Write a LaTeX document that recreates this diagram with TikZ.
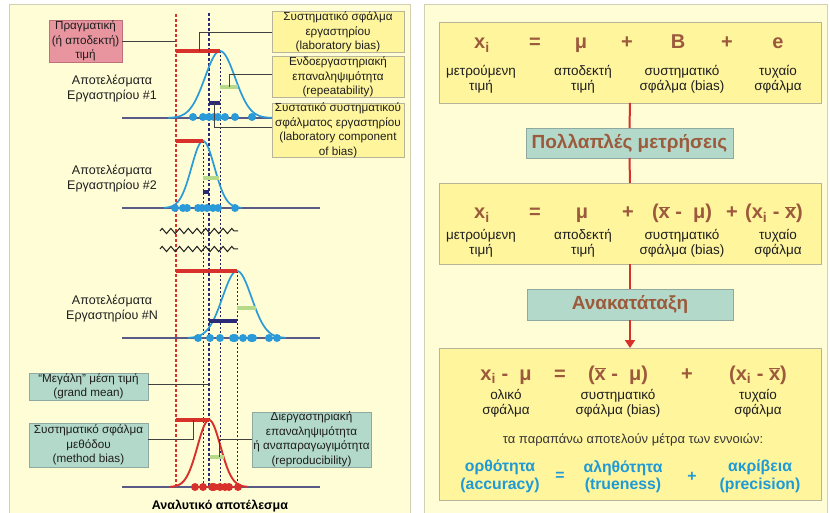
\documentclass[tikz,border=0pt]{standalone}
\usepackage{fontspec}
\setmainfont{Liberation Sans}
\usetikzlibrary{arrows.meta,decorations.pathmorphing}
\definecolor{panel}{HTML}{FFFDD6}
\definecolor{pbord}{HTML}{D3CFB0}
\definecolor{yfill}{HTML}{FFF59D}
\definecolor{ybord}{HTML}{B8B49A}
\definecolor{tfill}{HTML}{B3D9CA}
\definecolor{tbord}{HTML}{8FA9A0}
\definecolor{pfill}{HTML}{E8959F}
\definecolor{pbrd}{HTML}{C0707A}
\definecolor{redc}{HTML}{D8302A}
\definecolor{bluec}{HTML}{2A9BD8}
\definecolor{navyc}{HTML}{2B2A78}
\definecolor{axisc}{HTML}{5A5A86}
\definecolor{greenc}{HTML}{B6D98A}
\definecolor{brownc}{HTML}{9C5A3C}
\definecolor{bluet}{HTML}{1E9AD6}
\definecolor{txt}{HTML}{1E1E1E}
\newcommand\myxbar{\ensuremath{\overline{\hbox{x}}}}
\newcommand\myxi{x\textsubscript{i}}
\begin{document}
\begin{tikzpicture}[x=1pt,y=-1pt,
  every node/.style={inner sep=0pt, outer sep=0pt},
  lbl/.style={font=\fontsize{11.7}{14.5}\selectfont, text=txt, align=center},
  ybox/.style={draw=ybord, fill=yfill, line width=0.8pt, lbl},
  tbox/.style={draw=tbord, fill=tfill, line width=0.8pt, lbl},
  pbox/.style={draw=pbrd, fill=pfill, line width=0.8pt, lbl},
  bigbox/.style={draw=ybord, fill=yfill, line width=0.9pt},
  stagebox/.style={draw=tbord, fill=tfill, line width=0.9pt, font=\fontsize{19}{22}\selectfont\bfseries, text=brownc},
  conn/.style={draw=txt!85, line width=0.9pt},
  redline/.style={draw=redc, line width=2pt},
  meanline/.style={draw=navyc!80!black, line width=0.9pt, dash pattern=on 2pt off 2pt},
  axisline/.style={draw=axisc, line width=1.3pt},
  redbar/.style={draw=redc, line width=4.5pt},
  greenbar/.style={draw=greenc, line width=4pt},
  navybar/.style={draw=navyc, line width=3.5pt},
  bdot/.style={fill=bluec},
  rdot/.style={fill=redc},
  lab/.style={font=\fontsize{12.5}{15}\selectfont, text=txt, align=center},
  fml/.style={font=\fontsize{20}{24}\selectfont\bfseries, text=brownc, anchor=base},
  rlbl/.style={font=\fontsize{13.5}{15.5}\selectfont, text=txt, align=center},
  blu/.style={font=\fontsize{15.8}{17.5}\selectfont\bfseries, text=bluet, align=center}
]
\clip (0,0) rectangle (830,513);
\fill[white] (0,0) rectangle (830,513);
% panels
\draw[fill=panel, draw=pbord, line width=1pt] (9,5) rectangle (410,520);
\draw[fill=panel, draw=pbord, line width=1pt] (424,5) rectangle (827,520);

% ---------- LEFT PANEL ----------
% vertical reference lines
\draw[redc, line width=1.5pt, dash pattern=on 3pt off 2pt] (176,14) -- (176,488);
\draw[navyc, line width=1.6pt, dash pattern=on 3pt off 2pt] (209,13) -- (209,488);
\draw[meanline] (220,51) -- (220,488);
\draw[meanline] (203,141) -- (203,488);
\draw[meanline] (237,271) -- (237,488);

% axes
\draw[axisline] (122,118) -- (320,118);
\draw[axisline] (122,208) -- (320,208);
\draw[axisline] (122,338) -- (320,338);
\draw[axisline] (122,487) -- (320,487);

% breaks
\draw[txt, line width=1pt, decorate, decoration={zigzag, segment length=8.7pt, amplitude=2.6pt}] (160,231) -- (238,231);
\draw[txt, line width=1pt, decorate, decoration={zigzag, segment length=8.7pt, amplitude=2.6pt}] (160,249) -- (238,249);

% curves
\draw[bluec, line width=1.7pt] plot[domain=168:272, samples=90, smooth] (\x, {118-67*exp(-((\x-220)*(\x-220))/450)});
\draw[bluec, line width=1.7pt] plot[domain=164:242, samples=90, smooth] (\x, {208-67*exp(-((\x-203)*(\x-203))/265)});
\draw[bluec, line width=1.7pt] plot[domain=188:286, samples=90, smooth] (\x, {338-67*exp(-((\x-237)*(\x-237))/420)});
\draw[redc, line width=1.9pt] plot[domain=170:248, samples=90, smooth] (\x, {487-67*exp(-((\x-209)*(\x-209))/265)});

% bars
\draw[redbar] (176,51) -- (220,51);
\draw[greenbar] (220,87) -- (238,87);
\draw[navybar] (209,103) -- (220,103);
\draw[redbar] (176,141) -- (203,141);
\draw[greenbar] (203,178) -- (219,178);
\draw[navybar] (203,192) -- (209,192);
\draw[redbar] (176,271) -- (237,271);
\draw[greenbar] (237,308) -- (256,308);
\draw[navybar] (209,321) -- (237,321);
\draw[redbar] (176,420) -- (209,420);
\draw[greenbar] (210,457) -- (224,457);

% dots
\foreach \p in {193,203,209,214,218,225,235,252} \fill[bdot] (\p,117) circle (4);
\foreach \p in {175,183,187,198,202,207,213,218,235} \fill[bdot] (\p,208) circle (4);
\foreach \p in {198,210,220,233,235,243,251,253,269,277} \fill[bdot] (\p,338) circle (4);
\foreach \p in {195,203,212,214,220,225,229,238} \fill[rdot] (\p,487) circle (4);

% anchor coordinates
\coordinate (truev) at (176,41);
\coordinate (lb1) at (199,51);
\coordinate (rp1) at (229,87);
\coordinate (nb1) at (214,103);
\coordinate (gm1) at (209,384);
\coordinate (mb1) at (193,420);
\coordinate (rr1) at (219,457);

% label boxes
\node[pbox, minimum width=73pt, minimum height=42pt] (real) at (85.5,41) {Πραγματική\\(ή αποδεκτή)\\τιμή};
\node[ybox, minimum width=132pt, minimum height=40pt] (lbias) at (338,32) {Συστηματικό σφάλμα\\εργαστηρίου\\(laboratory bias)};
\node[ybox, minimum width=132pt, minimum height=40pt] (repeat) at (338,77) {Ενδοεργαστηριακή\\επαναληψιμότητα\\(repeatability)};
\node[ybox, minimum width=132pt, minimum height=53pt] (lcomp) at (338,130.5) {Συστατικό συστηματικού\\σφάλματος εργαστηρίου\\(laboratory component\\of bias)};
\node[tbox, minimum width=119pt, minimum height=27pt] (grand) at (88.5,386.5) {“Μεγάλη” μέση τιμή\\(grand mean)};
\node[tbox, minimum width=119pt, minimum height=44pt] (mbias) at (88.5,445) {Συστηματικό σφάλμα\\μεθόδου\\(method bias)};
\node[tbox, minimum width=119pt, minimum height=55pt] (repro) at (311.5,439.5) {Διεργαστηριακή\\επαναληψιμότητα\\ή αναπαραγωγιμότητα\\(reproducibility)};

% connectors
\draw[conn] (real.east) -- (truev);
\draw[conn] (lbias.west) -| (lb1);
\draw[conn] ([yshift=3pt]repeat.west) -| (rp1);
\draw[conn] (nb1) |- ([yshift=3.5pt]lcomp.west);
\draw[conn] ([yshift=2.5pt]grand.east) -- (gm1);
\draw[conn] ([yshift=6pt]mbias.east) -| (mb1);
\draw[conn] (repro.west) -| (rr1);

% lab captions
\node[lab] (lab1) at (112,89) {Αποτελέσματα\\Εργαστηρίου \#1};
\node[lab] (lab2) at (112,178.5) {Αποτελέσματα\\Εργαστηρίου \#2};
\node[lab] (labn) at (112,308.5) {Αποτελέσματα\\Εργαστηρίου \#N};
\node[font=\fontsize{12.5}{14}\selectfont\bfseries, text=black] (xaxis) at (220,506) {Αναλυτικό αποτέλεσμα};

% ---------- RIGHT PANEL ----------
\node[bigbox, minimum width=382pt, minimum height=81pt] (box1) at (630,62.5) {};
\node[bigbox, minimum width=382pt, minimum height=81pt] (box2) at (630,223.5) {};
\node[bigbox, minimum width=382pt, minimum height=152pt] (box3) at (630,424) {};
\node[stagebox, minimum width=207pt, minimum height=30pt] (pm) at (629.5,143) {Πολλαπλές μετρήσεις};
\node[stagebox, minimum width=206pt, minimum height=31pt] (an) at (630,304.5) {Ανακατάταξη};

\draw[redline] (box1.south) -- (pm.north);
\draw[redline] (pm.south) -- (box2.north);
\draw[redline] (box2.south) -- (an.north);
\draw[redline, -{Triangle[width=10pt,length=8pt]}] (an.south) -- (box3.north);

% box 1
\node[fml] (a1) at (482,49) {\myxi};
\node[fml] (a2) at (535,49) {=};
\node[fml] (a3) at (581,49) {μ};
\node[fml] (a4) at (627,49) {+};
\node[fml] (a5) at (678,49) {B};
\node[fml] (a6) at (727,49) {+};
\node[fml] (a7) at (778,49) {e};
\node[rlbl] (al1) at (481,79.5) {μετρούμενη\\τιμή};
\node[rlbl] (al2) at (583,79.5) {αποδεκτή\\τιμή};
\node[rlbl] (al3) at (682,79.5) {συστηματικό\\σφάλμα (bias)};
\node[rlbl] (al4) at (778,79.5) {τυχαίο\\σφάλμα};

% box 2
\node[fml] (b1) at (482,219) {\myxi};
\node[fml] (b2) at (535,219) {=};
\node[fml] (b3) at (582,219) {μ};
\node[fml] (b4) at (628,219) {+};
\node[fml] (b5) at (682,219) {(\myxbar{} -\ \ μ)};
\node[fml] (b6) at (732,219) {+};
\node[fml] (b7) at (774,219) {(\myxi{} - \myxbar)};
\node[rlbl] (bl1) at (481,243.5) {μετρούμενη\\τιμή};
\node[rlbl] (bl2) at (583,243.5) {αποδεκτή\\τιμή};
\node[rlbl] (bl3) at (682,243.5) {συστηματικό\\σφάλμα (bias)};
\node[rlbl] (bl4) at (778,243.5) {τυχαίο\\σφάλμα};

% box 3
\node[fml] (c1) at (506,380) {\myxi{} -\ \ μ};
\node[fml] (c2) at (560,380) {=};
\node[fml] (c3) at (618,380) {(\myxbar{} -\ \ μ)};
\node[fml] (c4) at (687,380) {+};
\node[fml] (c5) at (758,380) {(\myxi{} - \myxbar)};
\node[rlbl] (cl1) at (506,403.5) {ολικό\\σφάλμα};
\node[rlbl] (cl2) at (618,403.5) {συστηματικό\\σφάλμα (bias)};
\node[rlbl] (cl3) at (758,403.5) {τυχαίο\\σφάλμα};
\node[font=\fontsize{13}{14}\selectfont, text=txt!90] (note) at (633,440) {τα παραπάνω αποτελούν μέτρα των εννοιών:};
\node[blu] (d1) at (500,476.5) {ορθότητα\\(accuracy)};
\node[blu] (d2) at (560,476.5) {=};
\node[blu] (d3) at (623,476.5) {αληθότητα\\(trueness)};
\node[blu] (d4) at (692,476.5) {+};
\node[blu] (d5) at (760,476.5) {ακρίβεια\\(precision)};
\end{tikzpicture}
\end{document}
